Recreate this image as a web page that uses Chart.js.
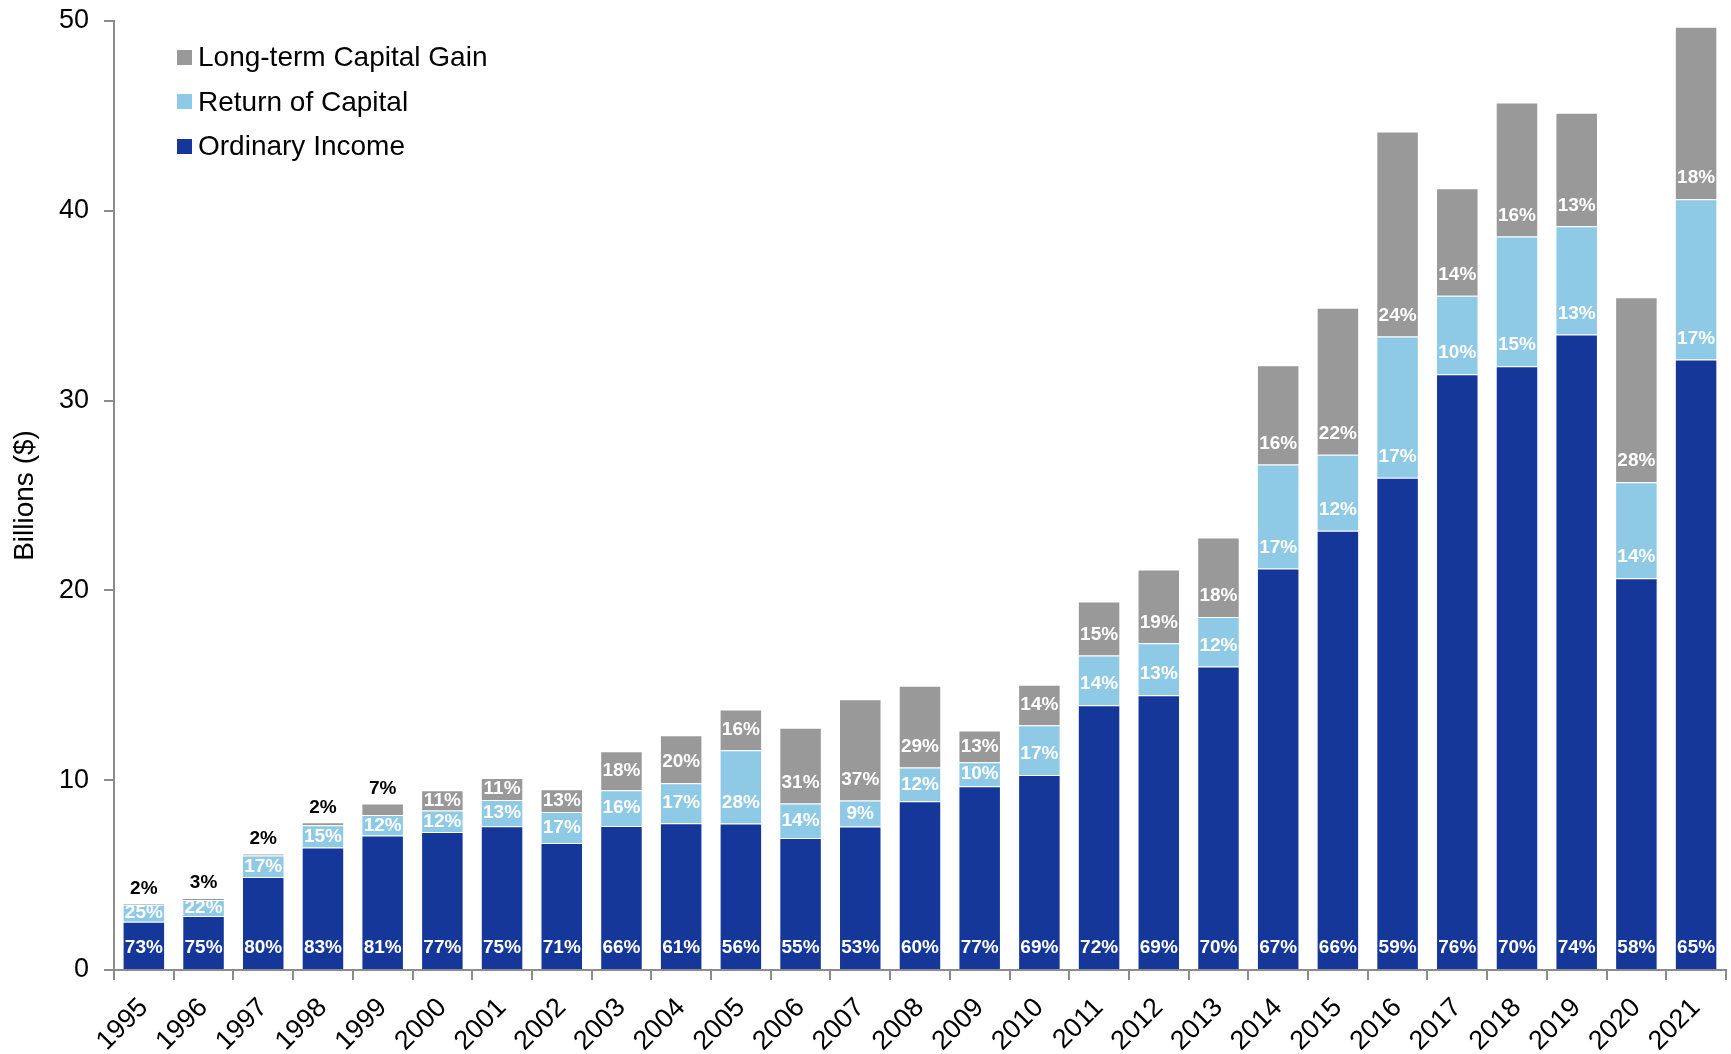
<!DOCTYPE html>
<html>
<head>
    <title>Distributions by Type</title>
    <script src="https://cdn.jsdelivr.net/npm/chart.js"></script>
    <style>
        body { margin: 0; background: #fff; }
        #wrap { position: relative; width: 1731px; height: 1054px; }
        #legend { position: absolute; left: 177px; top: 35px; font-family: "Liberation Sans", Arial, sans-serif; font-size: 28px; color: #000; }
        #legend div { height: 44.5px; display: flex; align-items: center; }
        #legend span.box { width: 15px; height: 15px; margin-right: 6px; display: inline-block; }
    </style>
</head>
<body>
    <div id="wrap">
        <canvas id="distChart"></canvas>
        <div id="legend"></div>
    </div>
    <script>
        const years = ['1995', '1996', '1997', '1998', '1999', '2000', '2001', '2002', '2003', '2004', '2005', '2006', '2007', '2008',
            '2009', '2010', '2011', '2012', '2013', '2014', '2015', '2016', '2017', '2018', '2019', '2020', '2021'];

        // billions of dollars
        const ordinaryIncome = [2.54, 2.85, 4.90, 6.45, 7.08, 7.27, 7.58, 6.69, 7.59, 7.73, 7.72, 6.96, 7.56, 8.89,
            9.68, 10.28, 13.95, 14.48, 15.99, 21.16, 23.14, 25.93, 31.39, 31.81, 33.48, 20.64, 32.16];
        const returnOfCapital = [0.90, 0.84, 1.13, 1.17, 1.08, 1.13, 1.38, 1.64, 1.88, 2.11, 3.86, 1.81, 1.37, 1.78,
            1.27, 2.62, 2.62, 2.73, 2.61, 5.47, 4.01, 7.45, 4.13, 6.83, 5.70, 5.06, 8.45];
        const capitalGain = [0.07, 0.11, 0.10, 0.16, 0.61, 1.07, 1.16, 1.19, 2.06, 2.53, 2.15, 3.99, 5.33, 4.31,
            1.67, 2.13, 2.85, 3.89, 4.19, 5.23, 7.74, 10.80, 5.67, 7.07, 5.98, 9.75, 9.09];

        // share of each year's total, in percent
        const ordinaryPct = [73, 75, 80, 83, 81, 77, 75, 71, 66, 61, 56, 55, 53, 60, 77, 69, 72, 69, 70, 67, 66, 59, 76, 70, 74, 58, 65];
        const returnPct = [25, 22, 17, 15, 12, 12, 13, 17, 16, 17, 28, 14, 9, 12, 10, 17, 14, 13, 12, 17, 12, 17, 10, 15, 13, 14, 17];
        const gainPct = [2, 3, 2, 2, 7, 11, 11, 13, 18, 20, 16, 31, 37, 29, 13, 14, 15, 19, 18, 16, 22, 24, 14, 16, 13, 28, 18];

        const FONT = '"Liberation Sans", Arial, sans-serif';
        const AXIS_GRAY = '#8c8c8c';

        // percent labels sit near the base of each segment; tiny segments get a black label on top
        const pctLabels = {
            id: 'pctLabels',
            afterDatasetsDraw(chart) {
                const ctx = chart.ctx;
                ctx.save();
                ctx.font = 'bold 19px ' + FONT;
                ctx.textAlign = 'center';
                ctx.textBaseline = 'middle';
                chart.data.datasets.forEach((ds, i) => {
                    const meta = chart.getDatasetMeta(i);
                    meta.data.forEach((bar, j) => {
                        const p = bar.getProps(['x', 'y', 'base'], true);
                        const h = p.base - p.y;
                        const text = ds.pct[j] + '%';
                        if (h < 14) {
                            ctx.fillStyle = '#000';
                            ctx.fillText(text, p.x, p.y - 15);
                        } else {
                            ctx.fillStyle = '#fff';
                            const ty = Math.max(p.base - 21, (p.y + p.base) / 2);
                            ctx.fillText(text, p.x, ty);
                        }
                    });
                });
                ctx.restore();
            }
        };

        const ctx = document.getElementById('distChart').getContext('2d');
        const chart = new Chart(ctx, {
            type: 'bar',
            data: {
                labels: years,
                datasets: [
                    { label: 'Ordinary Income', data: ordinaryIncome, pct: ordinaryPct, backgroundColor: '#15379a' },
                    { label: 'Return of Capital', data: returnOfCapital, pct: returnPct, backgroundColor: '#8ecae6' },
                    { label: 'Long-term Capital Gain', data: capitalGain, pct: gainPct, backgroundColor: '#999999' }
                ].map(d => Object.assign(d, {
                    borderColor: 'rgba(255,255,255,0.3)',
                    borderWidth: 1,
                    categoryPercentage: 1,
                    barPercentage: 0.712
                }))
            },
            options: {
                responsive: true,
                maintainAspectRatio: false,
                animation: false,
                layout: { padding: { top: 21, right: 0, left: 0, bottom: 0 } },
                plugins: {
                    legend: { display: false },
                    tooltip: { enabled: false }
                },
                scales: {
                    x: {
                        stacked: true,
                        grid: { offset: true, drawOnChartArea: false, drawTicks: true, tickLength: 10, color: AXIS_GRAY, lineWidth: 2 },
                        border: { color: AXIS_GRAY, width: 2 },
                        ticks: { color: '#000', font: { family: FONT, size: 27 }, minRotation: 45, maxRotation: 45, padding: 12, autoSkip: false },
                        afterFit(scale) { scale.height = 84; }
                    },
                    y: {
                        stacked: true,
                        min: 0,
                        max: 50,
                        grid: { drawOnChartArea: false, drawTicks: true, tickLength: 10, color: AXIS_GRAY, lineWidth: 2 },
                        border: { color: AXIS_GRAY, width: 2 },
                        ticks: { stepSize: 10, color: '#000', font: { family: FONT, size: 27 }, padding: 15 },
                        title: { display: true, text: 'Billions ($)', color: '#000', font: { family: FONT, size: 28 }, padding: { top: 8, bottom: 0 } },
                        afterFit(scale) {
                            scale.width = 114;
                            // keep the tick label padding from pushing the plot down
                            scale.paddingTop = 0;
                            scale.paddingBottom = 0;
                        }
                    }
                }
            },
            plugins: [pctLabels]
        });

        // legend inside the plot, top series first
        const legendEl = document.getElementById('legend');
        chart.data.datasets.slice().reverse().forEach(ds => {
            const row = document.createElement('div');
            const box = document.createElement('span');
            box.className = 'box';
            box.style.background = ds.backgroundColor;
            row.appendChild(box);
            row.appendChild(document.createTextNode(ds.label));
            legendEl.appendChild(row);
        });
    </script>
</body>
</html>
